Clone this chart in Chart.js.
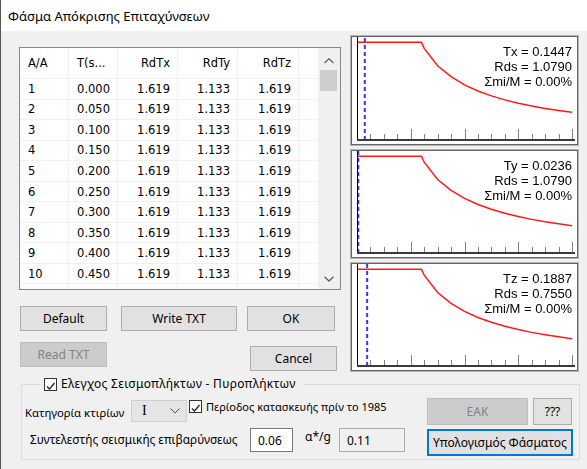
<!DOCTYPE html>
<html>
<head>
<meta charset="utf-8">
<script src="https://cdn.jsdelivr.net/npm/chart.js@4.4.1/dist/chart.umd.min.js"></script>
<style>
body{margin:0;background:#f0f0f0;font-family:"Noto Sans",sans-serif;font-size:12px;color:#000;}
#win{position:relative;width:587px;height:469px;overflow:hidden;background:#f0f0f0;}
#win > div, .a{position:absolute;}
#edge{left:0;top:0;width:1px;height:469px;background:#555;z-index:5}
#title{left:0;top:0;width:587px;height:31px;background:#fff;}
#title span{position:absolute;left:8px;top:7px;font-size:13px;}
#tbl{left:19px;top:47px;width:322px;height:243px;border:1px solid #828790;box-sizing:border-box;background:#fff;overflow:hidden;font-family:"DejaVu Sans",sans-serif;font-size:11.5px;}
#tbl .row{position:absolute;left:0;width:298px;border-bottom:1px solid #f0f0f0;box-sizing:border-box;}
#tbl .c{position:absolute;top:0;height:100%;display:flex;align-items:center;box-sizing:border-box;border-right:1px solid #f0f0f0;}
#sb{position:absolute;left:298px;top:0;width:22px;height:241px;background:#f0f0f0;}
.btn{background:#e1e1e1;border:1px solid #adadad;box-sizing:border-box;display:flex;align-items:center;justify-content:center;}
.dis{background:#cccccc;border-color:#bfbfbf;color:#838383;}
.box{border:1px solid #646464;box-shadow:0 0 0 1px #b4b4b4;box-sizing:border-box;background:#fff;}
.box canvas{position:absolute;left:0;top:0;}
.ann{position:absolute;right:5px;top:7px;text-align:right;font-family:"Liberation Sans",Arial,sans-serif;font-size:13px;line-height:15px;}
.chk{width:13px;height:13px;border:1px solid #333;box-sizing:border-box;background:#fff;}
.lbl{white-space:nowrap;line-height:16px;}
.fld{border:1px solid #7a7a7a;box-sizing:border-box;background:#fff;display:flex;align-items:center;padding-left:7px;}
</style>
</head>
<body>
<div id="win">
  <div id="title"><span>Φάσμα Απόκρισης Επιταχύνσεων</span></div>
  <div id="edge"></div>
  <div id="tbl"><div id="sb"></div></div>

  <div class="box" style="left:351px;top:36px;width:227px;height:109px"><canvas id="c1"></canvas><div class="ann" id="a1"></div></div>
  <div class="box" style="left:351px;top:150px;width:227px;height:108px"><canvas id="c2"></canvas><div class="ann" id="a2"></div></div>
  <div class="box" style="left:351px;top:263px;width:227px;height:108px"><canvas id="c3"></canvas><div class="ann" id="a3"></div></div>

  <div class="btn" style="left:20px;top:306px;width:87px;height:25px">Default</div>
  <div class="btn" style="left:121px;top:306px;width:116px;height:25px">Write TXT</div>
  <div class="btn" style="left:247px;top:306px;width:88px;height:25px">OK</div>
  <div class="btn dis" style="left:20px;top:342px;width:87px;height:25px">Read TXT</div>
  <div class="btn" style="left:250px;top:346px;width:87px;height:25px">Cancel</div>

  <div style="left:21px;top:384px;width:559px;height:76px;border:1px solid #dcdcdc;box-sizing:border-box"></div>
  <div style="left:41px;top:376px;width:262px;height:16px;background:#f0f0f0"></div>
  <div class="chk" style="left:44px;top:378px"><svg width="11" height="11"><path d="M2 5.5 L4.5 8 L9.5 2" stroke="#222" stroke-width="1.3" fill="none"/></svg></div>
  <div class="lbl" style="left:61px;top:376px;letter-spacing:0.3px">Ελεγχος Σεισμοπλήκτων - Πυροπλήκτων</div>

  <div class="lbl" style="left:25px;top:405px;font-size:11.3px">Κατηγορία κτιρίων</div>
  <div style="left:131px;top:400px;width:56px;height:22px;background:#e5e5e5;border:1px solid #cfcfcf;box-sizing:border-box">
    <span style="position:absolute;left:10px;top:2px;font-family:'Liberation Serif',serif;font-size:14px">I</span>
    <svg style="position:absolute;left:38px;top:7px" width="10" height="6"><path d="M0.5 0.5 L5 5 L9.5 0.5" stroke="#555" fill="none"/></svg>
  </div>
  <div class="chk" style="left:189px;top:400px"><svg width="11" height="11"><path d="M2 5.5 L4.5 8 L9.5 2" stroke="#222" stroke-width="1.3" fill="none"/></svg></div>
  <div class="lbl" style="left:206px;top:399px;font-size:11px">Περίοδος κατασκευής πρίν το 1985</div>
  <div class="btn dis" style="left:427px;top:398px;width:101px;height:27px">ΕΑΚ</div>
  <div class="btn" style="left:533px;top:398px;width:39px;height:27px">???</div>

  <div class="lbl" style="left:30px;top:431px;font-size:11.8px">Συντελεστής σεισμικής επιβαρύνσεως</div>
  <div class="fld" style="left:250px;top:428px;width:43px;height:24px">0.06</div>
  <div class="lbl" style="left:305px;top:429px">α*/g</div>
  <div class="fld" style="left:339px;top:428px;width:66px;height:24px;background:#f0f0f0;border-color:#adadad">0.11</div>
  <div class="btn" style="left:427px;top:429px;width:146px;height:27px;border:2px solid #0078d7">Υπολογισμός Φάσματος</div>
</div>

<script>
// table values
const rowNo = [1, 2, 3, 4, 5, 6, 7, 8, 9, 10];
const rowT = [0.000, 0.050, 0.100, 0.150, 0.200, 0.250, 0.300, 0.350, 0.400, 0.450];
const rowRdTx = [1.619, 1.619, 1.619, 1.619, 1.619, 1.619, 1.619, 1.619, 1.619, 1.619];
const rowRdTy = [1.133, 1.133, 1.133, 1.133, 1.133, 1.133, 1.133, 1.133, 1.133, 1.133];
const rowRdTz = [1.619, 1.619, 1.619, 1.619, 1.619, 1.619, 1.619, 1.619, 1.619, 1.619];
const headers = ['A/A', 'T(s...', 'RdTx', 'RdTy', 'RdTz'];

// spectrum curves (period, Rd)
const specT   = [0, 1.20, 1.25, 1.50, 1.75, 2.00, 2.25, 2.50, 2.75, 3.00, 3.25, 3.50, 3.75, 4.00];
const specRdx = [1.619, 1.619, 1.52, 1.23, 1.05, 0.915, 0.813, 0.732, 0.665, 0.61, 0.563, 0.523, 0.488, 0.458];
const specRdy = [1.133, 1.133, 1.064, 0.861, 0.735, 0.640, 0.569, 0.512, 0.465, 0.427, 0.394, 0.366, 0.342, 0.320];
const specRdz = [1.619, 1.619, 1.52, 1.23, 1.05, 0.915, 0.813, 0.732, 0.665, 0.61, 0.563, 0.523, 0.488, 0.458];

const periodNames = ['Tx', 'Ty', 'Tz'];
const periods = [0.1447, 0.0236, 0.1887];
const rdsValues = [1.0790, 1.0790, 0.7550];
const massRatio = [0.00, 0.00, 0.00];

// ---- table ----
const tbl = document.getElementById('tbl');
const cols = [
  {x: 0, w: 49, align: 'left'},
  {x: 49, w: 49, align: 'right'},
  {x: 98, w: 60, align: 'right'},
  {x: 158, w: 60, align: 'right'},
  {x: 218, w: 61, align: 'right'}
];
function addRow(cells, top, h, head) {
  let r = document.createElement('div');
  r.className = 'row';
  r.style.top = top + 'px';
  r.style.height = h + 'px';
  cells.forEach((txt, i) => {
    let c = document.createElement('div');
    c.className = 'c';
    c.style.left = cols[i].x + 'px';
    c.style.width = cols[i].w + 'px';
    let al = (head && i < 2) ? 'left' : cols[i].align;
    c.style.justifyContent = al == 'left' ? 'flex-start' : 'flex-end';
    c.style.padding = al == 'left' ? '0 0 0 8px' : '0 7px 0 0';
    c.textContent = txt;
    r.appendChild(c);
  });
  tbl.appendChild(r);
}
addRow(headers, 0, 31, true);
for (let i = 0; i < rowNo.length; i++) {
  addRow([rowNo[i], rowT[i].toFixed(3), rowRdTx[i].toFixed(3), rowRdTy[i].toFixed(3), rowRdTz[i].toFixed(3)], 31 + i * 20.55, 20.55, false);
}
addRow(['', '', '', '', ''], 31 + 10 * 20.55, 20.55, false);
const sb = document.getElementById('sb');
sb.innerHTML =
  '<svg style="position:absolute;left:6px;top:10px" width="10" height="6"><path d="M0.5 5 L5 0.8 L9.5 5" stroke="#606060" stroke-width="1.3" fill="none"/></svg>' +
  '<div style="position:absolute;left:2px;top:22px;width:17px;height:21px;background:#cdcdcd"></div>' +
  '<svg style="position:absolute;left:6px;top:228px" width="10" height="6"><path d="M0.5 0.8 L5 5 L9.5 0.8" stroke="#606060" stroke-width="1.3" fill="none"/></svg>';
tbl.appendChild(sb);

// ---- spectrum charts ----
const axisTicks = {
  id: 'axisTicks',
  afterDatasetsDraw(chart) {
    const ctx = chart.ctx, xs = chart.scales.x, a = chart.chartArea;
    ctx.save();
    ctx.strokeStyle = '#808080';
    ctx.lineWidth = 1;
    for (let v = 0.25; v <= xs.max + 1e-9; v += 0.25) {
      let px = Math.round(xs.getPixelForValue(v)) + 0.5;
      let len = Math.abs(v - Math.round(v)) < 1e-6 ? 11 : 6;
      ctx.beginPath();
      ctx.moveTo(px, a.bottom);
      ctx.lineTo(px, a.bottom - len);
      ctx.stroke();
    }
    ctx.strokeStyle = '#000';
    ctx.beginPath();
    ctx.moveTo(a.left + 0.5, 0);
    ctx.lineTo(a.left + 0.5, a.bottom);
    ctx.stroke();
    ctx.strokeStyle = '#3a3a3a';
    ctx.lineWidth = 2;
    ctx.beginPath();
    ctx.moveTo(a.left, a.bottom);
    ctx.lineTo(chart.width - 2, a.bottom);
    ctx.stroke();
    ctx.restore();
  }
};

function makeChart(id, rd, T) {
  const ymax = Math.max(...rd) * 1.055;
  const curve = specT.map((t, i) => ({x: t, y: rd[i]}));
  return new Chart(document.getElementById(id), {
    type: 'line',
    data: {
      datasets: [
        {data: [{x: T, y: 0}, {x: T, y: ymax}], borderColor: '#3535ff', borderWidth: 2, borderDash: [4, 3], pointRadius: 0, order: 0},
        {data: curve, borderColor: '#ff1a1a', borderWidth: 1.5, pointRadius: 0, tension: 0, order: 1}
      ]
    },
    options: {
      responsive: false,
      animation: false,
      events: [],
      layout: {padding: {left: 5, right: 5, top: 0, bottom: 4}},
      plugins: {legend: {display: false}, tooltip: {enabled: false}},
      scales: {
        x: {type: 'linear', min: 0, max: 4, display: false},
        y: {min: 0, max: ymax, display: false}
      }
    },
    plugins: [axisTicks]
  });
}

const rdSets = [specRdx, specRdy, specRdz];
const heights = [107, 106, 106];
['c1', 'c2', 'c3'].forEach((id, i) => {
  const cv = document.getElementById(id);
  cv.width = 225;
  cv.height = heights[i];
  cv.style.width = '225px';
  cv.style.height = heights[i] + 'px';
  makeChart(id, rdSets[i], periods[i]);
  document.getElementById('a' + (i + 1)).innerHTML =
    periodNames[i] + ' = ' + periods[i].toFixed(4) + '<br>' +
    'Rds = ' + rdsValues[i].toFixed(4) + '<br>' +
    'Σmi/M = ' + massRatio[i].toFixed(2) + '%';
});
</script>
</body>
</html>
